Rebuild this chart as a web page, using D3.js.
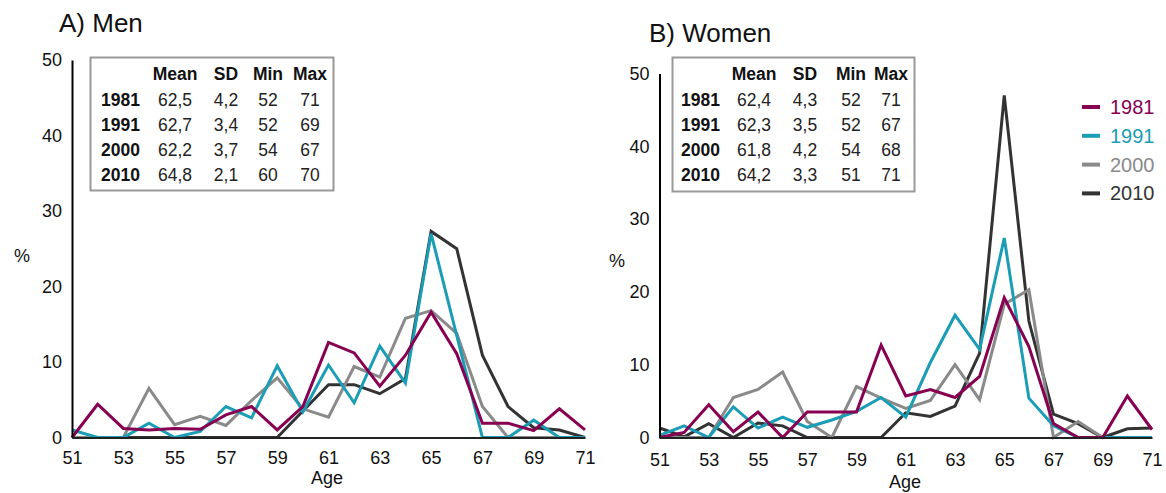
<!DOCTYPE html>
<html>
<head>
<meta charset="utf-8">
<script src="https://cdn.jsdelivr.net/npm/d3@7"></script>
<style>
  body { margin: 0; background: #fff; }
  svg { font-family: "Liberation Sans", Arial, sans-serif; }
</style>
</head>
<body>
<svg id="chart"></svg>
<script>
// ages on the x axis, tick labels
ages = [51,52,53,54,55,56,57,58,59,60,61,62,63,64,65,66,67,68,69,70,71];
xTicks = [51,53,55,57,59,61,63,65,67,69,71];
yTicks = [0,10,20,30,40,50];
years = ["1981","1991","2000","2010"];
colors = ["#870052","#1a9db5","#8a8a8a","#333333"];

// men, % by age
men1981 = [0,4.4,1.2,1.0,1.2,1.1,3.0,4.1,1.0,4.1,12.6,11.2,6.8,10.9,16.6,11.1,1.9,1.9,0.9,3.8,1.0];
men1991 = [1.0,0,0,1.9,0,0.8,4.1,2.6,9.5,3.4,9.6,4.6,12.1,7.2,27.0,13.5,0,0,2.3,0,0];
men2000 = [0,0,0,6.5,1.7,2.8,1.6,4.9,7.9,3.8,2.7,9.4,8.0,15.8,16.8,13.8,4.1,0,0,0,0];
men2010 = [0,0,0,0,0,0,0,0,0,3.5,7.0,7.0,5.8,7.8,27.3,25.0,10.9,4.1,1.3,1.0,0];

// women, % by age
women1981 = [0,0.7,4.5,0.8,3.5,0,3.5,3.5,3.5,12.7,5.7,6.6,5.5,8.4,19.2,12.5,1.9,0,0,5.7,1.1];
women1991 = [0.3,1.6,0,4.2,1.3,2.8,1.4,2.4,3.6,5.5,2.8,10.3,16.8,12.1,27.4,5.4,1.6,0,0,0,0];
women2000 = [0,0,0,5.5,6.6,9.0,2.2,0,7.0,5.4,4.0,5.1,10.0,5.2,18.3,20.3,0,2.2,0,0,0];
women2010 = [1.3,0.1,1.9,0,2.0,1.6,0,0,0,0,3.4,2.9,4.3,11.6,47.0,16.0,3.2,1.9,0,1.2,1.3];

// summary tables
statHeaders = ["Mean","SD","Min","Max"];
menStats = [["62,5","4,2","52","71"],["62,7","3,4","52","69"],["62,2","3,7","54","67"],["64,8","2,1","60","70"]];
womenStats = [["62,4","4,3","52","71"],["62,3","3,5","52","67"],["61,8","4,2","54","68"],["64,2","3,3","51","71"]];

svg = d3.select("#chart").attr("width", 1166).attr("height", 493);

panels = [
  {title: "A) Men", tx: 59, ty: 32, series: [men1981, men1991, men2000, men2010], stats: menStats,
   xr: [72, 585], yr: [437.5, 60], pctX: 22, pctY: 262, ageX: 327, ageY: 484, tickY: 464,
   box: [90.5, 57.5, 243, 133], cols: [101, 175, 226, 268, 310]},
  {title: "B) Women", tx: 649, ty: 42, series: [women1981, women1991, women2000, women2010], stats: womenStats,
   xr: [659.5, 1152], yr: [437.5, 73.5], pctX: 617, pctY: 267, ageX: 905, ageY: 488, tickY: 466,
   box: [672.5, 57.5, 242, 134], cols: [681, 754, 805, 851, 891]}
];

panels.forEach(function(p){
  var g = svg.append("g");
  var xs = d3.scaleLinear().domain([51,71]).range(p.xr);
  var ys = d3.scaleLinear().domain([0,50]).range(p.yr);

  //title
  g.append("text").attr("x", p.tx).attr("y", p.ty)
    .attr("font-size", 26).attr("fill", "#111").text(p.title);

  //lines, 2010 first so 1981 ends on top
  var line = d3.line().x(function(d,i){return xs(ages[i]);}).y(function(d){return ys(d);});
  [3,2,1,0].forEach(function(k){
    g.append("path").datum(p.series[k])
      .attr("d", line)
      .attr("fill", "none")
      .attr("stroke", colors[k])
      .attr("stroke-width", 3);
  });

  //y axis
  var ya = g.append("g")
    .attr("transform", "translate(" + p.xr[0] + ",0)")
    .call(d3.axisLeft(ys).tickValues(yTicks).tickSize(0).tickPadding(10));
  ya.select(".domain").attr("stroke", "#000").attr("stroke-width", 2);
  ya.selectAll("text").attr("font-size", 18).attr("fill", "#111")
    .attr("font-family", "Liberation Sans, Arial, sans-serif");

  //x axis
  var xa = g.append("g")
    .attr("transform", "translate(0," + p.yr[0] + ")")
    .call(d3.axisBottom(xs).tickValues(xTicks).tickSize(0).tickPadding(0));
  xa.select(".domain").attr("stroke", "#222").attr("stroke-width", 2);
  xa.selectAll("text").attr("font-size", 18).attr("fill", "#111")
    .attr("font-family", "Liberation Sans, Arial, sans-serif")
    .attr("dy", null).attr("y", p.tickY - p.yr[0]);

  //axis titles
  g.append("text").attr("x", p.pctX).attr("y", p.pctY).attr("text-anchor", "middle")
    .attr("font-size", 18).attr("fill", "#111").text("%");
  g.append("text").attr("x", p.ageX).attr("y", p.ageY).attr("text-anchor", "middle")
    .attr("font-size", 18).attr("fill", "#111").text("Age");

  //stats table
  g.append("rect").attr("x", p.box[0]).attr("y", p.box[1])
    .attr("width", p.box[2]).attr("height", p.box[3])
    .attr("fill", "#fff").attr("stroke", "#999").attr("stroke-width", 2);
  statHeaders.forEach(function(h,j){
    g.append("text").attr("x", p.cols[j+1]).attr("y", 80).attr("text-anchor", "middle")
      .attr("font-size", 17.5).attr("font-weight", "bold").attr("fill", "#111").text(h);
  });
  years.forEach(function(yr,i){
    var ty = 106 + i*25;
    g.append("text").attr("x", p.cols[0]).attr("y", ty)
      .attr("font-size", 17.5).attr("font-weight", "bold").attr("fill", "#111").text(yr);
    p.stats[i].forEach(function(v,j){
      g.append("text").attr("x", p.cols[j+1]).attr("y", ty).attr("text-anchor", "middle")
        .attr("font-size", 17.5).attr("fill", "#222").text(v);
    });
  });
});

//legend (right panel)
legend = svg.append("g").attr("transform", "translate(1082,107)");
years.forEach(function(yr,i){
  legend.append("line").attr("x1", 0).attr("x2", 18).attr("y1", i*28.8).attr("y2", i*28.8)
    .attr("stroke", colors[i]).attr("stroke-width", 4);
  legend.append("text").attr("x", 28).attr("y", i*28.8 + 7)
    .attr("font-size", 20).attr("fill", colors[i]).text(yr);
});
</script>
</body>
</html>
